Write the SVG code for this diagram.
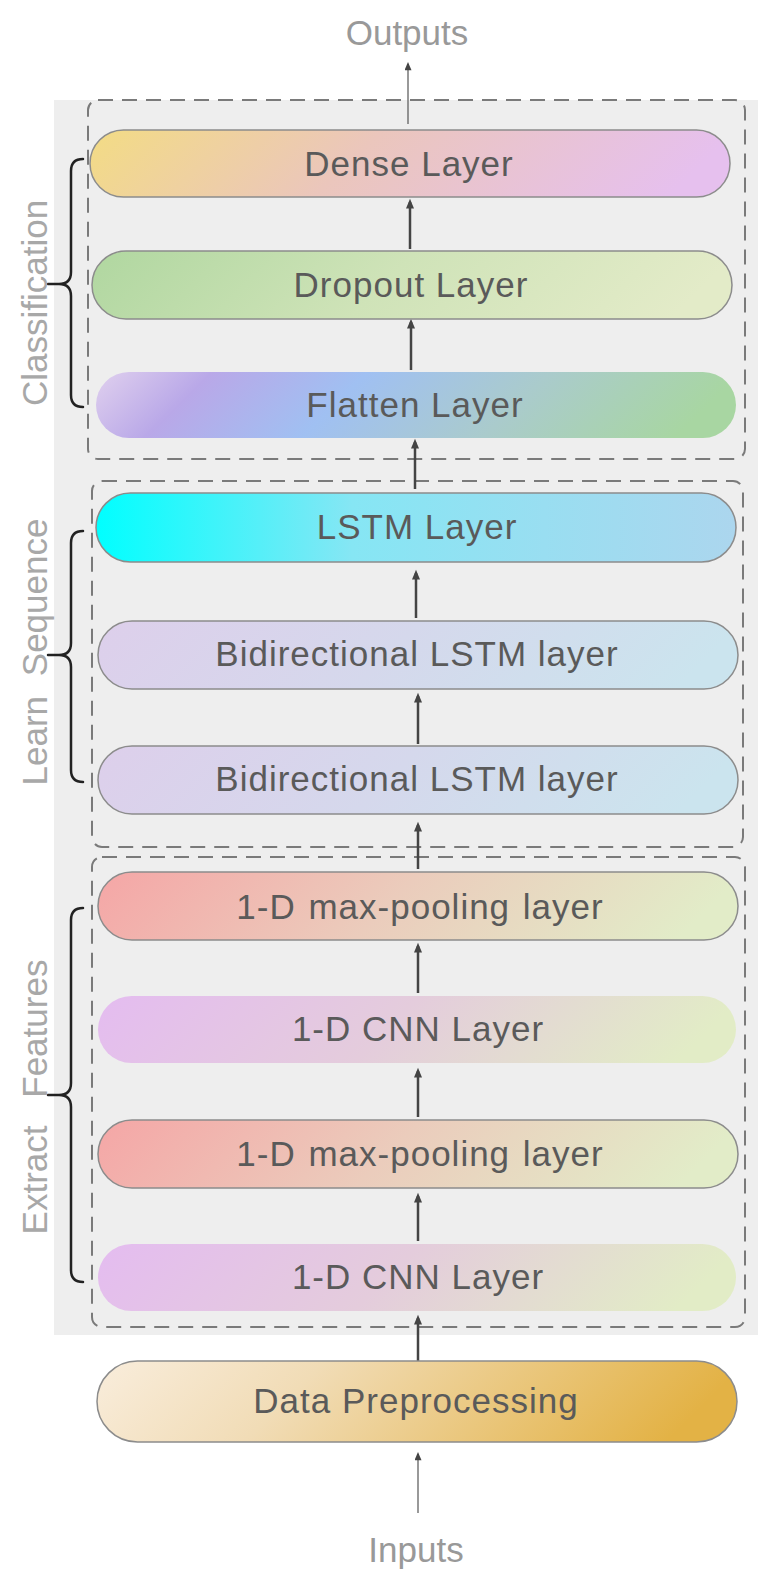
<svg xmlns="http://www.w3.org/2000/svg" width="758" height="1570" viewBox="0 0 758 1570">
<style>
.pill{stroke:#8c8c8c;stroke-width:1.5}
.nostroke{stroke:none}
.lbl{font-family:"Liberation Sans",Arial,sans-serif;font-size:35px;fill:#5a5a5a;text-anchor:middle;letter-spacing:1px}
.side{font-family:"Liberation Sans",Arial,sans-serif;font-size:35px;fill:#a8a8a8;text-anchor:middle}
.io{font-family:"Liberation Sans",Arial,sans-serif;font-size:35px;fill:#999999;text-anchor:middle}
.box{fill:none;stroke:#7a7a7a;stroke-width:2;stroke-dasharray:15 9}
.arr{stroke:#444;stroke-width:2.5;fill:none;marker-end:url(#ah)}
.arrt{stroke:#555;stroke-width:1.2;fill:none;marker-end:url(#ah2)}
.brace{fill:none;stroke:#222;stroke-width:2.5;stroke-linecap:round}
</style>
<defs>
<marker id="ah" markerWidth="12" markerHeight="8" refX="8" refY="5" orient="auto" markerUnits="userSpaceOnUse" viewBox="0 0 12 10"><path d="M0,0 L12,5 L0,10 Z" fill="#444"/></marker>
<marker id="ah2" markerWidth="11" markerHeight="7" refX="9" refY="5" orient="auto" markerUnits="userSpaceOnUse" viewBox="0 0 12 10"><path d="M0,0 L12,5 L0,10 Z" fill="#444"/></marker>
<linearGradient id="gDense" x1="0" y1="0" x2="1" y2="0.106"><stop offset="0" stop-color="#f3dc84"/><stop offset="0.45" stop-color="#ebc6bc"/><stop offset="1" stop-color="#e6c0ee"/></linearGradient>
<linearGradient id="gDrop" x1="0" y1="0" x2="1" y2="0.106"><stop offset="0" stop-color="#b0d7a0"/><stop offset="0.5" stop-color="#cfe3b8"/><stop offset="1" stop-color="#e3ebc8"/></linearGradient>
<linearGradient id="gFlat" x1="0" y1="0" x2="1" y2="0.106"><stop offset="0" stop-color="#e0d0ee"/><stop offset="0.18" stop-color="#b9a8e8"/><stop offset="0.42" stop-color="#a0c0f2"/><stop offset="0.7" stop-color="#aacbcc"/><stop offset="1" stop-color="#a8d6a2"/></linearGradient>
<linearGradient id="gLstm" x1="0" y1="0" x2="1" y2="0"><stop offset="0" stop-color="#00ffff"/><stop offset="0.4" stop-color="#86e6f4"/><stop offset="1" stop-color="#acd6ee"/></linearGradient>
<linearGradient id="gBi" x1="0" y1="0" x2="1" y2="0.106"><stop offset="0" stop-color="#ddcfeb"/><stop offset="0.5" stop-color="#d5d8ec"/><stop offset="1" stop-color="#cbe4ee"/></linearGradient>
<linearGradient id="gPool" x1="0" y1="0" x2="1" y2="0.106"><stop offset="0" stop-color="#f5a6a6"/><stop offset="0.5" stop-color="#ebccbc"/><stop offset="1" stop-color="#e2ecc8"/></linearGradient>
<linearGradient id="gCnn" x1="0" y1="0" x2="1" y2="0.106"><stop offset="0" stop-color="#e4bcf0"/><stop offset="0.5" stop-color="#e4ccdc"/><stop offset="1" stop-color="#e2ecc6"/></linearGradient>
<linearGradient id="gData" x1="0" y1="0" x2="1" y2="0.126"><stop offset="0" stop-color="#f9eddc"/><stop offset="0.35" stop-color="#f1dcb6"/><stop offset="1" stop-color="#e3b245"/></linearGradient>
</defs>

<rect x="54" y="100" width="704" height="1235" fill="#eeeeee"/>

<g id="groups">
<rect class="box" x="88" y="100" width="657" height="359" rx="10"/>
<rect class="box" x="92" y="481" width="651" height="366" rx="10"/>
<rect class="box" x="92" y="857" width="653" height="470" rx="10"/>
</g>

<g id="braces">
<path class="brace" d="M83,159 Q71,159 71,171 L71,272 Q71,284 59,284 Q71,284 71,296 L71,395 Q71,407 83,407 M48,284 L60,284"/>
<path class="brace" d="M83,531 Q71,531 71,543 L71,643 Q71,655 59,655 Q71,655 71,667 L71,770 Q71,782 83,782 M48,655 L60,655"/>
<path class="brace" d="M83,908 Q71,908 71,920 L71,1083 Q71,1095 59,1095 Q71,1095 71,1107 L71,1270 Q71,1282 83,1282 M48,1095 L60,1095"/>
</g>

<g id="side-labels">
<text class="side" transform="translate(47,303) rotate(-90)">Classification</text>
<text class="side" transform="translate(47,652) rotate(-90)" word-spacing="10">Learn Sequence</text>
<text class="side" transform="translate(47,1097) rotate(-90)" word-spacing="18">Extract Features</text>
</g>

<g id="connectors">
<line class="arrt" x1="408" y1="124" x2="408" y2="64"/>
<line class="arr" x1="410" y1="249" x2="410" y2="202"/>
<line class="arr" x1="411" y1="370" x2="411" y2="322"/>
<line class="arr" x1="415" y1="489" x2="415" y2="442"/>
<line class="arr" x1="416" y1="618" x2="416" y2="573"/>
<line class="arr" x1="418" y1="744" x2="418" y2="696"/>
<line class="arr" x1="418" y1="869" x2="418" y2="825"/>
<line class="arr" x1="418" y1="993" x2="418" y2="946"/>
<line class="arr" x1="418" y1="1117" x2="418" y2="1071"/>
<line class="arr" x1="418" y1="1241" x2="418" y2="1196"/>
<line class="arr" x1="418" y1="1361" x2="418" y2="1318"/>
<line class="arrt" x1="418" y1="1513" x2="418" y2="1454"/>
</g>

<g id="n-dense"><rect class="pill" x="90" y="130" width="640" height="67" rx="33.5" fill="url(#gDense)"/><text class="lbl" x="409" y="176">Dense Layer</text></g>
<g id="n-dropout"><rect class="pill" x="92" y="251" width="640" height="68" rx="34" fill="url(#gDrop)"/><text class="lbl" x="411" y="297">Dropout Layer</text></g>
<g id="n-flatten"><rect class="nostroke" x="96" y="372" width="640" height="66" rx="33" fill="url(#gFlat)"/><text class="lbl" x="415" y="417">Flatten Layer</text></g>
<g id="n-lstm"><rect class="pill" x="96" y="493" width="640" height="69" rx="34.5" fill="url(#gLstm)"/><text class="lbl" x="417" y="539">LSTM Layer</text></g>
<g id="n-bilstm1"><rect class="pill" x="98" y="621" width="640" height="68" rx="34" fill="url(#gBi)"/><text class="lbl" x="417" y="666">Bidirectional LSTM layer</text></g>
<g id="n-bilstm2"><rect class="pill" x="98" y="746" width="640" height="68" rx="34" fill="url(#gBi)"/><text class="lbl" x="417" y="791">Bidirectional LSTM layer</text></g>
<g id="n-pool1"><rect class="pill" x="98" y="872" width="640" height="68" rx="34" fill="url(#gPool)"/><text class="lbl" x="420" y="919" word-spacing="2">1-D max-pooling layer</text></g>
<g id="n-cnn1"><rect class="nostroke" x="98" y="996" width="638" height="67" rx="33.5" fill="url(#gCnn)"/><text class="lbl" x="418" y="1041">1-D CNN Layer</text></g>
<g id="n-pool2"><rect class="pill" x="98" y="1120" width="640" height="68" rx="34" fill="url(#gPool)"/><text class="lbl" x="420" y="1166" word-spacing="2">1-D max-pooling layer</text></g>
<g id="n-cnn2"><rect class="nostroke" x="98" y="1244" width="638" height="67" rx="33.5" fill="url(#gCnn)"/><text class="lbl" x="418" y="1289">1-D CNN Layer</text></g>
<g id="n-data"><rect class="pill" x="97" y="1361" width="640" height="81" rx="40.5" fill="url(#gData)"/><text class="lbl" x="416" y="1413">Data Preprocessing</text></g>

<g id="io-labels">
<text class="io" x="407" y="45">Outputs</text>
<text class="io" x="416" y="1562">Inputs</text>
</g>
</svg>
